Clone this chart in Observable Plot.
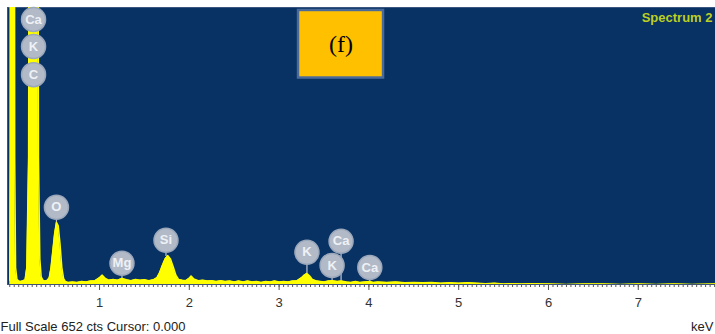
<!DOCTYPE html>
<html><head><meta charset="utf-8">
<script src="https://cdn.jsdelivr.net/npm/d3@7"></script>
<script src="https://cdn.jsdelivr.net/npm/@observablehq/plot@0.6"></script>
<style>html,body{margin:0;padding:0;background:#fff}svg{display:block}</style>
</head><body><div id="chart"></div>
<script>
// Spectrum (keV, counts; full scale 652 cts)
const energy = [0.00,0.005,0.01,0.05,0.055,0.065,0.08,0.10,0.12,0.14,0.16,0.17,0.19,0.21,0.22,0.25,0.29,0.31,0.32,0.335,0.35,0.37,0.39,0.42,0.44,0.46,0.48,0.50,0.52,0.54,0.56,0.58,0.60,0.62,0.65,0.70,0.75,0.80,0.85,0.90,0.95,1.00,1.03,1.06,1.10,1.15,1.20,1.25,1.30,1.35,1.40,1.45,1.50,1.55,1.60,1.64,1.67,1.70,1.73,1.76,1.79,1.82,1.85,1.88,1.92,1.96,2.00,2.02,2.05,2.10,2.15,2.20,2.25,2.30,2.35,2.40,2.45,2.50,2.55,2.60,2.65,2.70,2.75,2.80,2.85,2.90,2.95,3.00,3.05,3.10,3.15,3.20,3.25,3.28,3.31,3.34,3.37,3.42,3.46,3.50,3.55,3.59,3.65,3.69,3.75,3.80,3.85,3.90,3.95,4.01,4.05,4.10,4.20,4.30,4.40,4.50,4.60,4.70,4.80,4.90,5.00,5.10,5.20,5.30,5.40,5.50,5.60,5.70,5.80,6.00,6.20,6.40,6.60,6.80,7.00,7.20,7.40,7.60,7.86];
const counts = [10,300,2000,2000,300,40,12,8,7,8,10,10,40,300,1500,3000,3000,1500,300,60,18,10,8,10,16,40,80,120,146,138,95,40,14,7,5,6,5,7,6,8,9,16,22,15,10,12,10,14,11,9,12,10,11,9,11,16,28,45,60,68,60,42,22,12,10,9,15,20,13,9,10,8,9,7,9,7,8,6,8,6,8,6,7,5,7,6,8,6,7,6,8,9,16,22,26,20,12,8,7,6,8,9,7,8,6,5,7,5,6,7,5,6,5,6,4,5,4,5,3,4,3,4,3,2,3,1,2,1,2,1,0,1,1,0,1,0,1,0,1,0];

// Element markers
const labelNames = ["Ca","K","C","O","Mg","Si","K","Ca","K","Ca"];
const labelKeV   = [0.265,0.265,0.265,0.52,1.25,1.74,3.31,3.69,3.59,4.01];
const labelLevel = [624,560,494,182,50,104,76,102,45,40];
const labelPeak  = [null,null,null,146,14,66,26,8,8,6];

// Annotation box "(f)"
const boxText = ["(f)"];
const boxX = [3.216,4.163];
const boxY = [486,645];

const majorTicks = [1,2,3,4,5,6,7];
const minorTicks = d3.range(0,158).map(i=>i*0.05).filter(v=>v<=7.86);

const spectrum = energy.map((e,i)=>({keV:e, cts:counts[i]}));
const labels = labelNames.map((n,i)=>({name:n, keV:labelKeV[i], level:labelLevel[i], peak:labelPeak[i]}));
const box = boxText.map(t=>({t, x1:boxX[0], x2:boxX[1], y1:boxY[0], y2:boxY[1]}));

const chart = Plot.plot({
  width:715, height:334,
  marginLeft:7, marginRight:0, marginTop:7, marginBottom:50,
  style:{background:"#fff", fontFamily:"'Liberation Sans', Arial, sans-serif", overflow:"visible"},
  x:{domain:[-0.025,7.86], label:null},
  y:{domain:[0,652], axis:null},
  marks:[
    Plot.frame({fill:"#073263", stroke:"#3a5580", strokeWidth:1}),
    Plot.ruleX(labels.filter(d=>d.peak!=null), {x:"keV", y1:"peak", y2:"level", stroke:"#c0c7d3", strokeWidth:1.2}),
    Plot.areaY(spectrum, {x:"keV", y:"cts", fill:"#ffff00", curve:"linear", clip:true}),
    Plot.lineY(spectrum, {x:"keV", y:"cts", stroke:"#ffff00", strokeWidth:1.5, clip:true}),
    Plot.dot(labels, {x:"keV", y:"level", r:12, fill:"#b2bac8", stroke:"#9ba7bb", strokeWidth:1.5}),
    Plot.text(labels, {x:"keV", y:"level", text:"name", fill:"#eef1f5", fontSize:13, fontWeight:"bold"}),
    Plot.rect(box, {x1:"x1", x2:"x2", y1:"y1", y2:"y2", fill:"#ffc000", stroke:"#4a6a9c", strokeWidth:2.5}),
    Plot.text(box, {x:d=>(d.x1+d.x2)/2, y:d=>(d.y1+d.y2)/2, text:"t", fontFamily:"'Liberation Serif', 'Times New Roman', serif", fontSize:24, fill:"#000"}),
    Plot.text(["Spectrum 2"], {frameAnchor:"top-right", dx:-3, dy:5, lineAnchor:"top", fill:"#bccf22", fontWeight:"bold", fontSize:13}),
    Plot.axisX(minorTicks, {tickSize:3, tickFormat:()=>"", stroke:"#555", label:null}),
    Plot.axisX(majorTicks, {tickSize:6, tickPadding:7, fontSize:13, fill:"#333", stroke:"#555", label:null}),
    Plot.text(["Full Scale 652 cts Cursor: 0.000"], {frameAnchor:"bottom-left", dx:-7, dy:42, textAnchor:"start", lineAnchor:"middle", fontSize:13, fill:"#222"}),
    Plot.text(["keV"], {frameAnchor:"bottom-right", dx:-2, dy:42, textAnchor:"end", lineAnchor:"middle", fontSize:13, fill:"#222"})
  ]
});
document.getElementById("chart").appendChild(chart);
</script>
</body></html>
